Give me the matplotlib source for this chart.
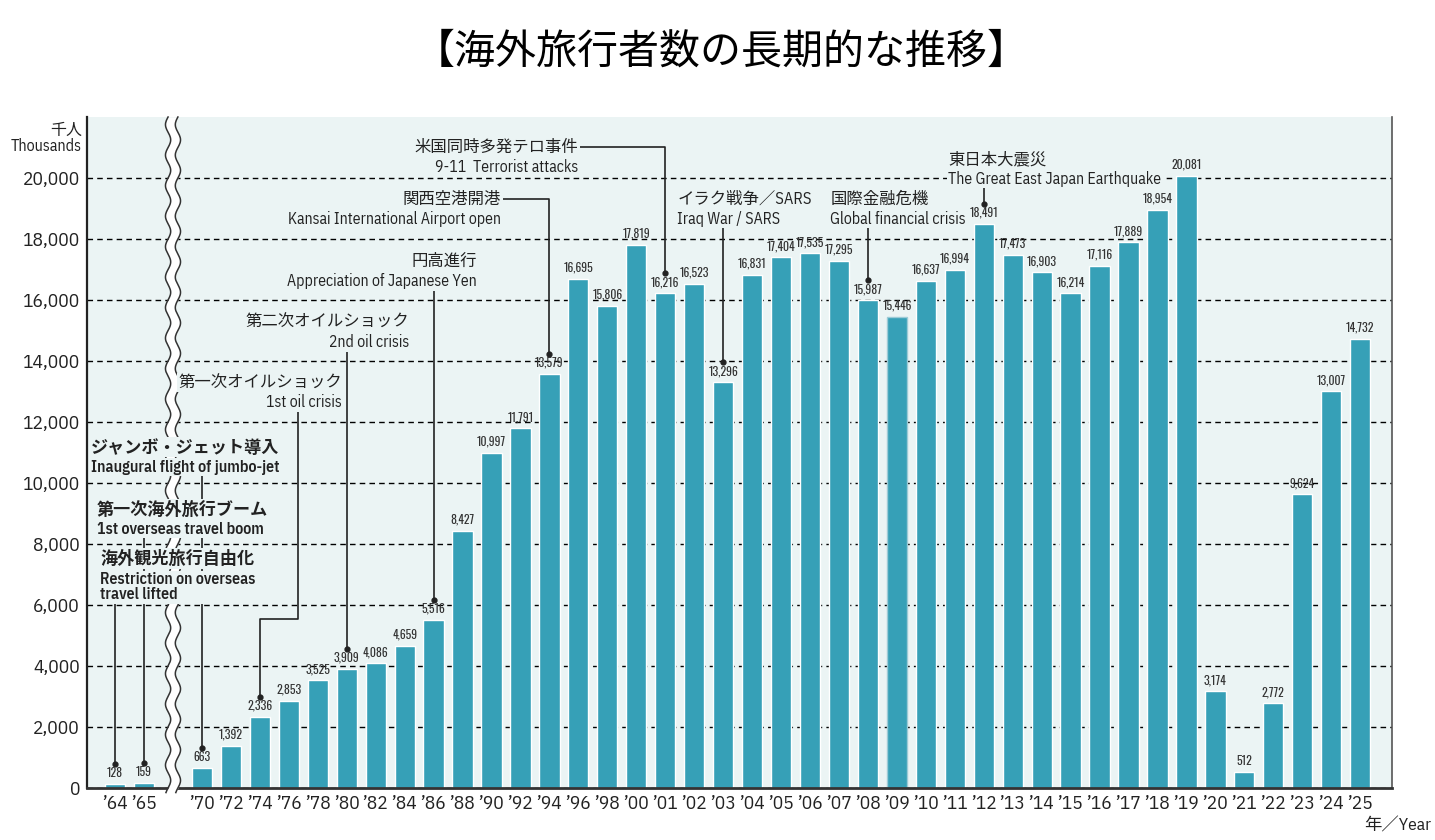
import numpy as np
import matplotlib
matplotlib.use("Agg")
import matplotlib.pyplot as plt

# ---------------- data ----------------
years = ['’64', '’65',
         '’70', '’72', '’74', '’76', '’78', '’80', '’82', '’84', '’86', '’88',
         '’90', '’92', '’94', '’96', '’98',
         '’00', '’01', '’02', '’03', '’04', '’05', '’06', '’07', '’08', '’09',
         '’10', '’11', '’12', '’13', '’14', '’15', '’16', '’17', '’18', '’19',
         '’20', '’21', '’22', '’23', '’24', '’25']
travelers = [128, 159,
             663, 1392, 2336, 2853, 3525, 3909, 4086, 4659, 5516, 8427,
             10997, 11791, 13579, 16695, 15806,
             17819, 16216, 16523, 13296, 16831, 17404, 17535, 17295, 15987, 15446,
             16637, 16994, 18491, 17473, 16903, 16214, 17116, 17889, 18954, 20081,
             3174, 512, 2772, 9624, 13007, 14732]
yticks = [0, 2000, 4000, 6000, 8000, 10000, 12000, 14000, 16000, 18000, 20000]
highlight_year = '’09'
n_before_break = 2  # categories drawn before the axis break

title = '【海外旅行者数の長期的な推移】'
unit_label = '千人\nThousands'
year_label = '年／Year'

event_jp = ['海外観光旅行自由化', '第一次海外旅行ブーム', 'ジャンボ・ジェット導入',
            '第一次オイルショック', '第二次オイルショック', '円高進行', '関西空港開港',
            '米国同時多発テロ事件', 'イラク戦争／SARS', '国際金融危機', '東日本大震災']
event_en = ['Restriction on overseas\ntravel lifted', '1st overseas travel boom',
            'Inaugural flight of jumbo-jet', '1st oil crisis', '2nd oil crisis',
            'Appreciation of Japanese Yen', 'Kansai International Airport open',
            '9-11  Terrorist attacks', 'Iraq War / SARS', 'Global financial crisis',
            'The Great East Japan Earthquake']
event_years = ['’64', '’65', '’70', '’74', '’80', '’86', '’94', '’01', '’03', '’08', '’12']

# ---------------- style ----------------
BG = '#EBF4F4'
BAR = '#36A0B7'
LINE = '#222222'
NARROW = ['IBM Plex Sans Condensed', 'Noto Sans CJK JP', 'DejaVu Sans']
LABELF = ['Oswald', 'IBM Plex Sans Condensed', 'DejaVu Sans']
JP = ['Noto Sans CJK JP', 'DejaVu Sans']

fig = plt.figure(figsize=(14.35, 8.4), dpi=100)
ax = fig.add_axes([87 / 1435, 52 / 840, (1392 - 87) / 1435, (788 - 117) / 840])
ax.set_facecolor(BG)

idx = np.arange(len(years))
pos = idx + (idx >= n_before_break)
pos_of = dict(zip(years, pos))
val_of = dict(zip(years, travelers))
brk = n_before_break  # x position of the break gap

edgecols = ['#9CCBD6' if y == highlight_year else 'white' for y in years]
ax.bar(pos, travelers, width=0.7, color=BAR, edgecolor=edgecols, linewidth=1.0, zorder=2)

for p, v in zip(pos, travelers):
    ax.text(p, v + 170, f'{v:,}', ha='center', va='bottom', fontsize=8.5,
            family=LABELF, fontweight='light', color='#333333', zorder=6)

ax.set_xlim(-0.97, pos[-1] + 1.1)
ax.set_ylim(0, 22000)
ax.set_yticks(yticks)
ax.set_yticklabels([f'{t:,}' for t in yticks], family=NARROW, fontsize=14, color='#222222')
ax.set_xticks(pos)
ax.set_xticklabels(years, family=NARROW, fontsize=14, color='#222222')
ax.tick_params(length=0)
ax.tick_params(axis='x', pad=5)
ax.tick_params(axis='y', pad=5)
ax.set_axisbelow(True)
ax.yaxis.grid(True, color='black', linestyle=(0, (4, 3)), linewidth=1.0)
ax.xaxis.grid(False)

ax.spines['top'].set_visible(False)
ax.spines['left'].set_linewidth(1.6)
ax.spines['left'].set_color('#222222')
ax.spines['bottom'].set_linewidth(2.0)
ax.spines['bottom'].set_color('#333333')
ax.spines['right'].set_linewidth(1.2)
ax.spines['right'].set_color('#555555')

# wavy axis break
yy = np.linspace(-150, 22000, 600)
wave = 0.09 * np.sin(yy / 1000 * 2 * np.pi)
xl = brk - 0.17 + wave
xr = brk + 0.17 + wave
ax.fill_betweenx(yy, xl, xr, color='white', zorder=3, clip_on=False, linewidth=0)
ax.plot(xl, yy, color='#333333', lw=1.1, zorder=3.1, clip_on=False)
ax.plot(xr, yy, color='#333333', lw=1.1, zorder=3.1, clip_on=False)

# ---------------- annotations ----------------
DOT = 660       # gap between bar top and the arrow dot
EN_GAP = 650    # JP line centre -> first English line centre
EN_LINE = 580   # English line pitch
# (text x, JP line centre y, ha, bold, route)
layout = [
    (-0.52, 7520, 'left', True, 'v'),
    (-0.62, 9130, 'left', True, 'v'),
    (-0.83, 11170, 'left', True, 'v'),
    (7.84, 13300, 'right', False, ('down-across', 6.3, 5550)),
    (10.16, 15270, 'right', False, 'v'),
    (12.50, 17270, 'right', False, 'v'),
    (13.33, 19310, 'right', False, ('across', 13.25, 19310)),
    (15.99, 21020, 'right', False, ('across', 15.9, 21020)),
    (19.41, 19310, 'left', False, 'v'),
    (24.70, 19310, 'left', False, 'v'),
    (28.77, 20620, 'left', False, 'v'),
]
box = dict(boxstyle='square,pad=0.1', facecolor=BG, edgecolor='none')

for jp, en, yr, (tx, ty, ha, bold, route) in zip(event_jp, event_en, event_years, layout):
    ax.text(tx, ty, jp, ha=ha, va='center', fontsize=12.3 if bold else 11.8,
            fontweight='bold' if bold else 'normal', family=NARROW, color='#222222',
            zorder=5, bbox=box)
    nl = en.count('\n') + 1
    ax.text(tx, ty - EN_GAP - (nl - 1) * EN_LINE / 2, en, ha=ha, va='center',
            multialignment=ha, fontsize=11.4 if bold else 11.3,
            fontweight='semibold' if bold else 'normal', family=NARROW, color='#222222',
            linespacing=1.0, zorder=5, bbox=box)
    px = pos_of[yr]
    end_y = val_of[yr] + DOT
    top = ty - EN_GAP
    if route == 'v':
        xs = [px, px]
        ys = [top, end_y]
    elif route[0] == 'down-across':
        _, ex, ey = route
        xs = [ex, ex, px, px]
        ys = [top, ey, ey, end_y]
    else:
        _, ex, ey = route
        xs = [ex, px, px]
        ys = [ey, ey, end_y]
    ax.plot(xs, ys, color=LINE, lw=1.2, zorder=4)
    ax.plot([px], [end_y], 'o', color=LINE, ms=3.5, zorder=4)

# ---------------- figure texts ----------------
fig.text(0.5025, 1 - 52 / 840, title, ha='center', va='center', fontsize=29.5,
         family=JP, color='black')
fig.text(82 / 1435, 1 - 138 / 840, unit_label, ha='right', va='center',
         multialignment='right', fontsize=11.5, family=NARROW, color='#222222',
         linespacing=1.05)
fig.text(1431 / 1435, 1 - 825 / 840, year_label, ha='right', va='center',
         fontsize=12.5, family=NARROW, color='#222222')

fig.savefig('out.png', dpi=100, facecolor='white')
